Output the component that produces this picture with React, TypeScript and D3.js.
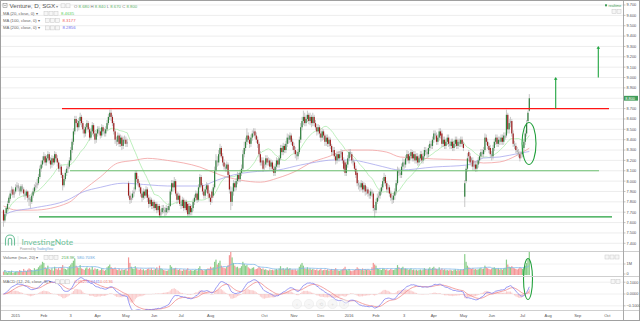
import React, { useEffect, useRef } from 'react';
import * as d3 from 'd3';

// ---------- DATA (prices in hundredths of S$) ----------
const closes = [
  762, 768, 774, 778, 784, 788, 792, 787, 790, 794,
  796, 793, 790, 795, 792, 788, 786, 790, 784, 782,
  780, 786, 790, 794, 796, 798, 804, 812, 816, 820,
  824, 818, 822, 826, 820, 816, 822, 818, 826, 822,
  818, 812, 814, 806, 796, 802, 808, 812, 814, 820,
  830, 838, 848, 860, 856, 852, 858, 862, 856, 850,
  846, 852, 856, 850, 842, 848, 854, 846, 840, 846,
  850, 848, 844, 852, 848, 846, 850, 856, 862, 866,
  862, 856, 848, 840, 838, 844, 836, 842, 834, 840,
  840, 836, 838, 786, 782, 784, 788, 790, 808, 802,
  798, 794, 788, 784, 790, 786, 792, 784, 778, 782,
  776, 780, 774, 778, 772, 776, 767, 770, 774, 772,
  770, 774, 772, 776, 790, 798, 794, 800, 788, 782,
  786, 778, 776, 782, 774, 780, 772, 768, 776, 770,
  774, 780, 784, 788, 782, 794, 804, 796, 790, 786,
  792, 796, 788, 784, 780, 784, 794, 810, 820, 818,
  826, 832, 824, 818, 814, 812, 816, 806, 792, 780,
  790, 798, 794, 800, 806, 802, 808, 812, 826, 832,
  838, 844, 840, 836, 842, 846, 848, 844, 840, 836,
  826, 818, 820, 812, 816, 822, 818, 820, 814, 818,
  812, 808, 814, 820, 816, 822, 832, 828, 834, 830,
  836, 842, 840, 844, 838, 834, 830, 826, 824, 828,
  840, 852, 858, 862, 856, 860, 864, 858, 862, 856,
  862, 856, 852, 848, 852, 846, 842, 848, 844, 838,
  842, 836, 840, 834, 828, 830, 824, 820, 826, 822,
  826, 828, 820, 812, 808, 816, 822, 828, 826, 820,
  818, 812, 806, 798, 796, 794, 798, 792, 796, 790,
  792, 788, 786, 790, 788, 774, 772, 780, 784, 786,
  790, 794, 800, 804, 798, 792, 794, 788, 784, 782,
  786, 790, 798, 810, 808, 806, 814, 818, 816, 822,
  826, 820, 824, 828, 822, 826, 820, 824, 818, 822,
  826, 820, 824, 830, 828, 826, 832, 836, 834, 840,
  846, 844, 838, 842, 848, 844, 836, 840, 834, 838,
  842, 836, 834, 838, 832, 836, 840, 834, 838, 836,
  840, 836, 832, 798, 812, 822, 824, 818, 820, 814,
  816, 812, 816, 820, 824, 828, 826, 830, 842, 838,
  834, 830, 826, 824, 832, 838, 842, 836, 840, 838,
  842, 838, 844, 844, 864, 850, 856, 858, 846, 836,
  834, 830, 828, 826, 822, 826, 832, 838, 846, 856,
  866, 880,
];
const opens = [
  772, 762, 769, 773, 779, 783, 789, 792, 787, 790,
  794, 796, 793, 790, 795, 792, 788, 786, 790, 784,
  783, 780, 786, 790, 794, 796, 798, 804, 812, 816,
  820, 824, 818, 822, 826, 820, 816, 822, 818, 826,
  822, 818, 812, 814, 806, 796, 802, 808, 812, 814,
  820, 830, 838, 848, 860, 856, 852, 858, 862, 856,
  850, 846, 852, 856, 850, 842, 848, 854, 846, 840,
  846, 850, 848, 844, 852, 848, 846, 850, 856, 862,
  866, 862, 856, 848, 840, 838, 844, 836, 842, 834,
  840, 840, 836, 798, 786, 782, 784, 788, 792, 808,
  802, 798, 794, 788, 784, 790, 786, 792, 784, 778,
  782, 776, 780, 774, 778, 772, 776, 767, 770, 774,
  772, 770, 774, 772, 776, 790, 798, 794, 800, 788,
  782, 786, 778, 776, 782, 774, 780, 778, 768, 776,
  770, 774, 780, 784, 788, 782, 794, 804, 796, 790,
  786, 792, 796, 788, 784, 790, 786, 794, 810, 820,
  818, 826, 832, 824, 818, 814, 812, 816, 806, 790,
  780, 790, 798, 794, 800, 806, 802, 808, 812, 826,
  832, 838, 844, 840, 836, 842, 846, 848, 844, 840,
  836, 826, 818, 820, 816, 816, 822, 818, 820, 814,
  818, 812, 808, 814, 820, 816, 822, 832, 828, 834,
  830, 836, 842, 840, 844, 838, 834, 830, 826, 824,
  828, 840, 852, 858, 862, 856, 860, 864, 858, 862,
  856, 862, 856, 852, 848, 852, 846, 842, 848, 844,
  838, 842, 836, 840, 834, 828, 830, 824, 820, 826,
  822, 826, 828, 820, 818, 808, 816, 822, 828, 826,
  820, 818, 812, 808, 798, 796, 794, 798, 792, 796,
  790, 792, 788, 786, 790, 788, 774, 772, 780, 784,
  786, 790, 794, 800, 804, 798, 792, 794, 788, 784,
  782, 786, 790, 798, 810, 808, 806, 814, 818, 816,
  822, 826, 820, 824, 828, 822, 826, 820, 824, 818,
  822, 826, 820, 824, 830, 828, 826, 832, 836, 834,
  840, 846, 844, 838, 842, 848, 846, 836, 840, 834,
  838, 842, 836, 834, 838, 832, 836, 840, 834, 838,
  836, 840, 836, 785, 800, 812, 828, 824, 822, 820,
  814, 816, 812, 816, 820, 824, 828, 826, 830, 842,
  838, 834, 832, 826, 824, 832, 838, 842, 836, 840,
  838, 842, 838, 842, 844, 864, 850, 856, 858, 846,
  836, 834, 830, 828, 826, 828, 826, 832, 838, 846,
  858, 868,
];
const highs = [
  773, 770, 776, 781, 786, 791, 795, 794, 792, 797,
  799, 798, 795, 797, 797, 794, 791, 792, 791, 787,
  785, 789, 793, 797, 799, 802, 807, 815, 820, 824,
  828, 826, 825, 829, 828, 823, 825, 824, 829, 828,
  825, 820, 817, 816, 808, 805, 811, 815, 818, 823,
  833, 841, 851, 863, 863, 859, 861, 866, 864, 858,
  853, 855, 859, 858, 852, 851, 857, 856, 849, 849,
  853, 853, 850, 855, 854, 851, 853, 859, 865, 869,
  869, 864, 858, 850, 843, 847, 846, 845, 844, 843,
  844, 843, 841, 800, 790, 788, 791, 794, 810, 810,
  805, 800, 796, 791, 793, 792, 795, 794, 787, 785,
  784, 782, 782, 780, 780, 778, 778, 773, 777, 777,
  775, 777, 776, 779, 792, 801, 801, 804, 802, 790,
  789, 788, 781, 785, 784, 782, 782, 780, 779, 778,
  777, 783, 787, 791, 790, 797, 807, 806, 798, 793,
  795, 799, 798, 791, 787, 792, 797, 814, 826, 824,
  830, 836, 834, 827, 821, 817, 819, 818, 809, 795,
  794, 801, 800, 803, 809, 808, 811, 816, 830, 838,
  842, 851, 847, 843, 845, 849, 851, 851, 847, 843,
  838, 829, 823, 823, 819, 825, 825, 823, 822, 821,
  820, 815, 817, 823, 822, 825, 835, 835, 837, 836,
  839, 846, 845, 847, 846, 841, 837, 833, 829, 831,
  843, 856, 862, 868, 866, 864, 868, 866, 866, 864,
  866, 864, 859, 855, 855, 854, 849, 851, 850, 846,
  845, 845, 843, 842, 836, 833, 833, 827, 829, 829,
  829, 831, 830, 823, 820, 819, 825, 831, 831, 828,
  822, 820, 815, 810, 801, 799, 801, 800, 799, 798,
  795, 794, 791, 793, 792, 790, 777, 783, 788, 790,
  793, 797, 803, 808, 806, 800, 797, 796, 791, 787,
  789, 793, 801, 814, 813, 811, 817, 822, 821, 825,
  830, 829, 827, 831, 830, 829, 829, 827, 827, 825,
  829, 829, 827, 833, 833, 831, 835, 839, 839, 843,
  849, 849, 847, 845, 851, 851, 849, 843, 843, 841,
  845, 845, 839, 841, 841, 839, 843, 843, 841, 841,
  843, 843, 838, 801, 815, 827, 830, 827, 823, 823,
  819, 819, 819, 823, 827, 831, 831, 833, 846, 845,
  841, 837, 835, 829, 835, 841, 845, 845, 843, 843,
  845, 845, 847, 847, 869, 866, 860, 862, 860, 849,
  839, 837, 833, 831, 829, 829, 835, 841, 849, 859,
  868, 884,
];
const lows = [
  756, 760, 766, 771, 777, 781, 786, 784, 784, 788,
  791, 790, 786, 788, 789, 785, 782, 784, 780, 776,
  774, 778, 784, 788, 791, 793, 796, 802, 809, 813,
  817, 815, 815, 819, 817, 812, 813, 815, 816, 819,
  814, 809, 809, 803, 791, 794, 800, 805, 808, 812,
  818, 827, 835, 845, 852, 848, 849, 854, 852, 846,
  842, 843, 849, 847, 839, 840, 845, 843, 836, 837,
  843, 845, 841, 842, 845, 843, 843, 848, 854, 859,
  858, 853, 845, 836, 834, 835, 833, 833, 830, 831,
  836, 833, 833, 784, 778, 779, 782, 785, 790, 799,
  795, 790, 785, 780, 782, 783, 784, 780, 774, 775,
  773, 773, 771, 772, 769, 770, 765, 765, 768, 769,
  766, 767, 769, 770, 775, 787, 790, 791, 786, 778,
  780, 776, 773, 774, 771, 772, 770, 766, 766, 767,
  767, 771, 777, 781, 779, 780, 792, 794, 787, 783,
  783, 789, 785, 780, 777, 779, 784, 792, 808, 814,
  815, 823, 822, 815, 811, 809, 809, 803, 788, 772,
  776, 786, 790, 791, 797, 799, 799, 805, 810, 823,
  829, 835, 837, 832, 833, 839, 843, 841, 837, 832,
  823, 815, 815, 809, 811, 813, 815, 815, 811, 811,
  809, 805, 805, 811, 813, 813, 820, 825, 825, 827,
  827, 833, 836, 837, 835, 830, 827, 822, 820, 821,
  826, 837, 849, 854, 853, 853, 857, 855, 854, 852,
  853, 853, 849, 844, 845, 842, 838, 839, 840, 834,
  834, 833, 833, 831, 825, 825, 821, 816, 817, 819,
  819, 823, 817, 809, 805, 805, 813, 819, 823, 817,
  815, 809, 803, 795, 792, 790, 791, 789, 789, 786,
  787, 785, 783, 783, 785, 771, 765, 769, 778, 781,
  783, 787, 791, 797, 795, 789, 789, 785, 781, 778,
  779, 782, 787, 796, 805, 803, 803, 811, 812, 813,
  819, 817, 817, 821, 819, 819, 817, 817, 815, 815,
  819, 817, 817, 821, 825, 823, 823, 829, 831, 831,
  837, 841, 835, 835, 839, 841, 833, 833, 831, 831,
  835, 833, 831, 831, 829, 829, 833, 831, 831, 833,
  833, 833, 829, 775, 798, 809, 819, 815, 814, 810,
  810, 809, 809, 813, 817, 821, 823, 823, 828, 835,
  831, 827, 823, 820, 821, 829, 835, 833, 833, 835,
  835, 835, 835, 840, 842, 846, 846, 852, 843, 833,
  831, 827, 825, 823, 819, 822, 823, 829, 835, 843,
  856, 867,
];
// daily volume in units of 10K shares
const volumes = [
  30, 45, 28, 22, 35, 26, 40, 18, 25, 30,
  32, 28, 45, 38, 30, 55, 40, 35, 48, 60,
  52, 45, 38, 62, 48, 55, 70, 85, 95, 120,
  110, 70, 60, 85, 55, 48, 62, 40, 75, 58,
  50, 65, 45, 70, 90, 60, 55, 48, 62, 80,
  95, 110, 130, 150, 85, 70, 65, 90, 60, 55,
  45, 60, 70, 55, 65, 50, 75, 48, 60, 52,
  55, 40, 45, 62, 50, 38, 45, 70, 80, 95,
  72, 60, 55, 68, 50, 45, 58, 40, 52, 45,
  48, 55, 40, 160, 110, 75, 60, 55, 80, 62,
  50, 48, 58, 45, 52, 40, 45, 55, 60, 48,
  62, 45, 50, 55, 70, 48, 85, 60, 55, 45,
  42, 38, 40, 48, 90, 75, 55, 60, 65, 50,
  45, 55, 40, 38, 52, 45, 48, 62, 40, 45,
  42, 38, 45, 50, 40, 62, 80, 55, 45, 40,
  48, 52, 60, 58, 75, 65, 70, 120, 140, 95,
  110, 130, 85, 70, 65, 60, 75, 90, 180, 240,
  160, 110, 85, 70, 75, 60, 65, 80, 120, 100,
  85, 90, 70, 60, 55, 65, 70, 50, 55, 60,
  75, 65, 55, 60, 48, 52, 45, 40, 50, 45,
  48, 42, 50, 55, 45, 60, 80, 55, 62, 50,
  58, 70, 55, 62, 48, 50, 45, 52, 40, 48,
  75, 95, 110, 85, 60, 55, 70, 52, 60, 48,
  55, 50, 45, 52, 40, 48, 55, 42, 45, 50,
  45, 52, 40, 48, 55, 42, 50, 62, 45, 40,
  38, 45, 52, 60, 75, 48, 42, 55, 40, 35,
  40, 45, 55, 70, 58, 52, 45, 60, 42, 55,
  48, 52, 45, 40, 70, 110, 95, 85, 60, 55,
  50, 45, 60, 55, 48, 52, 40, 45, 55, 48,
  45, 50, 62, 90, 70, 55, 65, 75, 58, 60,
  55, 48, 52, 60, 45, 50, 42, 48, 40, 45,
  50, 42, 48, 62, 55, 45, 58, 70, 55, 65,
  75, 60, 55, 52, 70, 48, 60, 45, 52, 42,
  45, 40, 48, 42, 38, 45, 52, 40, 48, 42,
  50, 45, 55, 190, 120, 85, 70, 60, 55, 62,
  50, 55, 48, 52, 60, 65, 55, 58, 85, 70,
  62, 55, 50, 58, 65, 70, 60, 55, 62, 50,
  55, 48, 60, 65, 140, 95, 75, 70, 80, 65,
  60, 55, 50, 58, 70, 62, 55, 68, 85, 110,
  150, 230,
];

// long moving averages (bar index, value)
const ma100Idx = [0, 10, 22, 48, 59, 72, 85, 97, 107, 122, 146, 161, 176, 191, 204, 219, 228, 241, 256, 271, 285, 295, 308, 320, 345, 357, 369, 382, 391];
const ma100Val = [7.76, 7.72, 7.72, 7.79, 7.91, 8.04, 8.175, 8.20, 8.22, 8.20, 8.136, 8.06, 8.01, 7.99, 8.03, 8.107, 8.175, 8.233, 8.30, 8.30, 8.28, 8.233, 8.223, 8.214, 8.204, 8.175, 8.185, 8.25, 8.318];
const ma200Idx = [0, 5, 22, 48, 59, 72, 89, 109, 122, 146, 159, 171, 184, 204, 221, 233, 245, 258, 271, 282, 295, 320, 345, 357, 369, 384, 391];
const ma200Val = [7.67, 7.70, 7.74, 7.82, 7.895, 7.94, 7.98, 7.963, 7.953, 7.953, 8.01, 8.06, 8.088, 8.107, 8.156, 8.185, 8.204, 8.204, 8.175, 8.14, 8.107, 8.136, 8.156, 8.223, 8.233, 8.27, 8.286];

// x-axis labels at the first bar of each month
const monthIdx = [9, 30, 50, 70, 91, 112, 132, 154, 194, 216, 236, 257, 277, 298, 320, 342, 363, 386, 405, 427, 449];
const monthLbl = ['2015', 'Feb', '3', 'Apr', 'May', 'Jun', 'Jul', 'Aug', 'Oct', 'Nov', 'Dec', '2016', 'Feb', '3', 'Apr', 'May', 'Jun', 'Jul', 'Aug', 'Sep', 'Oct'];

const priceTicks = d3.range(74, 98).map((v) => v / 10);
const lastPrice = 8.8;
const resistance = 8.7;
const supportMid = 8.1;
const supportLow = 7.655;
const target1 = [8.7, 9.0];
const target2 = [9.0, 9.3];

const FONT = "'Liberation Sans', Arial, sans-serif";

export default function App() {
  const ref = useRef<SVGSVGElement>(null);
  useEffect(() => {
    document.body.style.margin = '0';
    const svg = d3.select(ref.current);
    svg.selectAll('*').remove();

    const o = opens.map((v) => v / 100);
    const c = closes.map((v) => v / 100);
    const h = highs.map((v, i) => Math.max(v / 100, o[i], c[i]));
    const l = lows.map((v, i) => Math.min(v / 100, o[i], c[i]));
    const vol = volumes.map((v) => v * 1e4);
    const N = c.length;

    const x = d3.scaleLinear().domain([0, N - 1]).range([3.5, 529.3]);
    const yP = d3.scaleLinear().domain([7.4, 9.7]).range([243.3, 5]);
    const yV = d3.scaleLinear().domain([0, 1e6]).range([275, 264]);
    const yM = d3.scaleLinear().domain([-0.1, 0.1]).range([305.8, 282.2]);

    const defs = svg.append('defs');
    const clip = (id: string, y0: number, y1: number) =>
      defs.append('clipPath').attr('id', id).append('rect').attr('x', 1).attr('y', y0).attr('width', 622).attr('height', y1 - y0);
    clip('cMain', 0, 251);
    clip('cVol', 252, 276);
    clip('cMacd', 277, 310);

    svg.append('rect').attr('width', 640).attr('height', 321).attr('fill', '#fff');

    // grid
    const grid = svg.append('g');
    priceTicks.forEach((t) => {
      grid.append('line').attr('x1', 1).attr('x2', 623).attr('y1', yP(t)).attr('y2', yP(t)).attr('stroke', '#e9e9e9').attr('stroke-width', 0.8);
    });
    [0.1, 0, -0.1].forEach((t) => {
      grid.append('line').attr('x1', 1).attr('x2', 623).attr('y1', yM(t)).attr('y2', yM(t)).attr('stroke', '#ececec').attr('stroke-width', 0.8);
    });
    grid.append('line').attr('x1', 1).attr('x2', 623).attr('y1', yV(1e6)).attr('y2', yV(1e6)).attr('stroke', '#efefef').attr('stroke-width', 0.8);

    // watermark logo
    const logo = svg.append('g');
    logo.append('path').attr('d', 'M5.5,245.5 V239.5 A4.5,4.5 0 0 1 14.5,239.5 V245.5 M8.3,245.5 V240 A1.7,1.7 0 0 1 11.7,240 V245.5')
      .attr('fill', 'none').attr('stroke', '#6cbf98').attr('stroke-width', 1.1);
    logo.append('line').attr('x1', 18).attr('x2', 18).attr('y1', 236).attr('y2', 246).attr('stroke', '#cfe8dc').attr('stroke-width', 0.6);
    logo.append('text').attr('x', 21.5).attr('y', 245.3).attr('font-family', 'Lato, sans-serif').attr('font-size', 8.4).attr('fill', '#6cbf98').text('InvestingNote');
    const pw = logo.append('text').attr('x', 20).attr('y', 249.6).attr('font-family', FONT).attr('font-size', 3).attr('fill', '#999');
    pw.append('tspan').text('Powered by ');
    pw.append('tspan').attr('fill', '#6a9fd8').text('TradingView');

    // moving averages
    const gMain = svg.append('g').attr('clip-path', 'url(#cMain)');
    const ma20 = c.map((_, i) => d3.mean(c.slice(Math.max(0, i - 19), i + 1)) as number);
    const lineIdx = d3.line<number>().x((_, i) => x(i)).y((d) => yP(d));
    gMain.append('path').attr('d', lineIdx(ma20)).attr('fill', 'none').attr('stroke', '#a6eaa6').attr('stroke-width', 0.75);
    const lineSample = d3.line<[number, number]>().x((d) => x(d[0])).y((d) => yP(d[1])).curve(d3.curveMonotoneX);
    gMain.append('path').attr('d', lineSample(ma100Idx.map((v, i) => [v, ma100Val[i]] as [number, number])))
      .attr('fill', 'none').attr('stroke', '#f2a0a0').attr('stroke-width', 0.8);
    gMain.append('path').attr('d', lineSample(ma200Idx.map((v, i) => [v, ma200Val[i]] as [number, number])))
      .attr('fill', 'none').attr('stroke', '#a8a8ee').attr('stroke-width', 0.8);

    // candles
    for (let i = 0; i < N; i++) {
      const xi = x(i);
      gMain.append('line').attr('x1', xi).attr('x2', xi).attr('y1', yP(h[i])).attr('y2', yP(l[i])).attr('stroke', '#b6b6b6').attr('stroke-width', 0.75);
      const top = yP(Math.max(o[i], c[i]));
      const bot = yP(Math.min(o[i], c[i]));
      const bh = Math.max(0.8, bot - top);
      const up = c[i] >= o[i];
      const fill = bh >= 3.5 ? (up ? '#2f7f3c' : '#9e1d1d') : '#a8a8a8';
      gMain.append('rect').attr('x', xi - 0.6).attr('width', 1.2).attr('y', top).attr('height', bh).attr('fill', fill);
    }

    // annotations
    const ann = svg.append('g');
    ann.append('line').attr('x1', 62).attr('x2', 609).attr('y1', yP(resistance)).attr('y2', yP(resistance)).attr('stroke', '#ff1414').attr('stroke-width', 1.1);
    ann.append('line').attr('x1', 70).attr('x2', 599).attr('y1', yP(supportMid)).attr('y2', yP(supportMid)).attr('stroke', '#6cc070').attr('stroke-width', 1.1);
    ann.append('line').attr('x1', 39).attr('x2', 612).attr('y1', yP(supportLow)).attr('y2', yP(supportLow)).attr('stroke', '#22a03c').attr('stroke-width', 1.4);
    const arrow = (ax: number, v0: number, v1: number) => {
      ann.append('line').attr('x1', ax).attr('x2', ax).attr('y1', yP(v0)).attr('y2', yP(v1) + 1.5).attr('stroke', '#1fa43f').attr('stroke-width', 1.1);
      ann.append('path').attr('d', `M${ax - 1.8},${yP(v1) + 2.2} L${ax},${yP(v1) - 0.5} L${ax + 1.8},${yP(v1) + 2.2} Z`).attr('fill', '#1fa43f');
    };
    arrow(555.7, target1[0], target1[1]);
    arrow(598.3, target2[0], target2[1]);
    ann.append('ellipse').attr('cx', 529).attr('cy', 143.5).attr('rx', 7).attr('ry', 21).attr('fill', 'none').attr('stroke', '#22a03c').attr('stroke-width', 1.1);

    // volume
    const gVol = svg.append('g').attr('clip-path', 'url(#cVol)');
    for (let i = 0; i < N; i++) {
      const up = c[i] >= o[i];
      gVol.append('rect').attr('x', x(i) - 0.6).attr('width', 1.2).attr('y', yV(vol[i])).attr('height', yV(0) - yV(vol[i]))
        .attr('fill', up ? '#6cc26c' : '#f27c7c').attr('opacity', 0.8);
    }
    const vma = vol.map((_, i) => d3.mean(vol.slice(Math.max(0, i - 19), i + 1)) as number);
    gVol.append('path').attr('d', d3.line<number>().x((_, i) => x(i)).y((d) => yV(d))(vma)).attr('fill', 'none').attr('stroke', '#7fb7ea').attr('stroke-width', 0.8);

    // MACD
    const ema = (arr: number[], n: number) => {
      const k = 2 / (n + 1);
      const out: number[] = [];
      arr.forEach((v, i) => out.push(i === 0 ? v : v * k + out[i - 1] * (1 - k)));
      return out;
    };
    const e12 = ema(c, 12), e26 = ema(c, 26);
    const macd = c.map((_, i) => e12[i] - e26[i]);
    const sig = ema(macd, 9);
    const hist = macd.map((m, i) => m - sig[i]);
    const gM = svg.append('g').attr('clip-path', 'url(#cMacd)');
    for (let i = 0; i < N; i++) {
      const y0 = yM(0), y1 = yM(hist[i]);
      gM.append('rect').attr('x', x(i) - 0.55).attr('width', 1.1).attr('y', Math.min(y0, y1)).attr('height', Math.max(0.3, Math.abs(y1 - y0)))
        .attr('fill', '#f5a3a3').attr('opacity', 0.55);
    }
    const lineM = d3.line<number>().x((_, i) => x(i)).y((d) => yM(d));
    gM.append('path').attr('d', lineM(sig)).attr('fill', 'none').attr('stroke', '#f08a8a').attr('stroke-width', 0.8);
    gM.append('path').attr('d', lineM(macd)).attr('fill', 'none').attr('stroke', '#8080f0').attr('stroke-width', 0.8);
    ann.raise();
    svg.append('ellipse').attr('cx', 528).attr('cy', 279).attr('rx', 4.5).attr('ry', 20.5).attr('fill', 'none').attr('stroke', '#22a03c').attr('stroke-width', 1.1);

    // nav buttons
    const nav = svg.append('g').attr('opacity', 0.6);
    ['‹', '−', '⟲', '+', '›'].forEach((s, k) => {
      const cx = [297, 309, 321, 332.5, 344][k];
      nav.append('circle').attr('cx', cx).attr('cy', 304).attr('r', 4.6).attr('fill', '#f3f3f3').attr('stroke', '#dedede').attr('stroke-width', 0.6);
      nav.append('text').attr('x', cx).attr('y', 305.5).attr('text-anchor', 'middle').attr('font-size', 4.5).attr('font-family', FONT).attr('fill', '#c4c4c4').text(s);
    });

    // separators / frame
    const sep = svg.append('g').attr('stroke', '#cfcfcf').attr('stroke-width', 1);
    [251.5, 276.5, 310.5].forEach((yy) => sep.append('line').attr('x1', 1).attr('x2', 639).attr('y1', yy).attr('y2', yy));
    svg.append('line').attr('x1', 623.5).attr('x2', 623.5).attr('y1', 0).attr('y2', 320).attr('stroke', '#a9a9a9').attr('stroke-width', 1);
    svg.append('rect').attr('x', 0.5).attr('y', 0.5).attr('width', 639).attr('height', 320).attr('fill', 'none').attr('stroke', '#a0a0a0').attr('stroke-width', 1);

    // right axis labels
    const ax = svg.append('g').attr('font-family', FONT).attr('font-size', 3.9).attr('fill', '#555');
    const rLabel = (yy: number, t: string) => {
      ax.append('line').attr('x1', 623.5).attr('x2', 625.5).attr('y1', yy).attr('y2', yy).attr('stroke', '#999').attr('stroke-width', 0.6);
      ax.append('text').attr('x', 626.5).attr('y', yy + 1.4).text(t);
    };
    priceTicks.forEach((t) => rLabel(yP(t), d3.format('.3f')(t)));
    rLabel(yV(1e6), '1M');
    rLabel(yV(0) - 1, '0');
    [0.1, 0, -0.1].forEach((t) => rLabel(yM(t), d3.format('.4f')(t)));
    ax.append('rect').attr('x', 624).attr('y', yP(lastPrice) - 2.4).attr('width', 14).attr('height', 4.8).attr('fill', '#3f9c58');
    ax.append('text').attr('x', 625.3).attr('y', yP(lastPrice) + 1.4).attr('fill', '#fff').text(d3.format('.3f')(lastPrice));

    // x-axis labels
    const xa = svg.append('g').attr('font-family', FONT).attr('font-size', 4).attr('fill', '#555').attr('text-anchor', 'middle');
    monthIdx.forEach((mi, k) => xa.append('text').attr('x', x(mi)).attr('y', 317.3).text(monthLbl[k]));

    // legends
    const lg = svg.append('g').attr('font-family', FONT);
    const sq = (sx: number, sy: number, n: number) => {
      for (let k = 0; k < n; k++) lg.append('rect').attr('x', sx + k * 5).attr('y', sy).attr('width', 4).attr('height', 4).attr('fill', '#f6f6f6').attr('stroke', '#c8c8c8').attr('stroke-width', 0.5);
    };
    lg.append('rect').attr('x', 3).attr('y', 3.6).attr('width', 4).attr('height', 4).attr('fill', 'none').attr('stroke', '#777').attr('stroke-width', 0.5);
    lg.append('line').attr('x1', 4).attr('x2', 6).attr('y1', 5.6).attr('y2', 5.6).attr('stroke', '#777').attr('stroke-width', 0.5);
    lg.append('text').attr('x', 9.5).attr('y', 8.2).attr('font-size', 6.2).attr('fill', '#555').text('Venture, D, SGX');
    lg.append('text').attr('x', 56).attr('y', 7.8).attr('font-size', 3.5).attr('fill', '#888').text('▾');
    sq(61, 3.8, 2);
    const ohlc = lg.append('text').attr('x', 74).attr('y', 7.6).attr('font-size', 4.3);
    [['O', '8.680'], ['H', '8.840'], ['L', '8.670'], ['C', '8.800']].forEach(([k, v]) => {
      ohlc.append('tspan').attr('fill', '#777').text(k + ' ');
      ohlc.append('tspan').attr('fill', '#5fb36a').text(v + ' ');
    });
    const maRow = (yy: number, label: string, val: string, col: string, sx: number) => {
      lg.append('text').attr('x', 3).attr('y', yy + 1.5).attr('font-size', 4.2).attr('fill', '#666').text(label + ' ▾');
      sq(sx, yy - 2, 3);
      lg.append('text').attr('x', sx + 17).attr('y', yy + 1.5).attr('font-size', 4.3).attr('fill', col).text(val);
    };
    maRow(13.7, 'MA (20, close, 0)', '8.4635', '#5ed05e', 44);
    maRow(20.7, 'MA (100, close, 0)', '8.3177', '#f06262', 45.5);
    maRow(27.9, 'MA (200, close, 0)', '8.2856', '#7070f0', 45.5);

    // volume legend
    lg.append('text').attr('x', 3).attr('y', 258.8).attr('font-size', 4.2).attr('fill', '#666').text('Volume (true, 20) ▾');
    sq(44, 255.3, 3);
    lg.append('text').attr('x', 61.5).attr('y', 258.8).attr('font-size', 4.2).attr('fill', '#5ab05a').text('218.9K');
    lg.append('text').attr('x', 77).attr('y', 258.8).attr('font-size', 4.2).attr('fill', '#6aa8e0').text('580.703K');
    sq(605, 255, 3);
    // MACD legend
    lg.append('text').attr('x', 3).attr('y', 283.3).attr('font-size', 4.2).attr('fill', '#666').text('MACD (12, 26, close, 9) ▾');
    sq(55.5, 279.8, 3);
    lg.append('text').attr('x', 74.5).attr('y', 283.3).attr('font-size', 4.2).attr('fill', '#f07a7a').text('0.0527');
    lg.append('text').attr('x', 87).attr('y', 283.3).attr('font-size', 4.2).attr('fill', '#7a7af0').text('0.0441');
    lg.append('text').attr('x', 100).attr('y', 283.3).attr('font-size', 4.2).attr('fill', '#f07a7a').text('0.0136');
    sq(611, 279.5, 2);

    // top-right realtime marker
    lg.append('rect').attr('x', 605).attr('y', 4.3).attr('width', 2).attr('height', 2).attr('fill', '#3f9c58');
    lg.append('text').attr('x', 608.5).attr('y', 6.9).attr('font-size', 3.6).attr('fill', '#3f9c58').text('realtime');
    sq(612, 9.5, 2);
  }, []);
  return <svg ref={ref} width={640} height={321} style={{ display: 'block' }} />;
}
